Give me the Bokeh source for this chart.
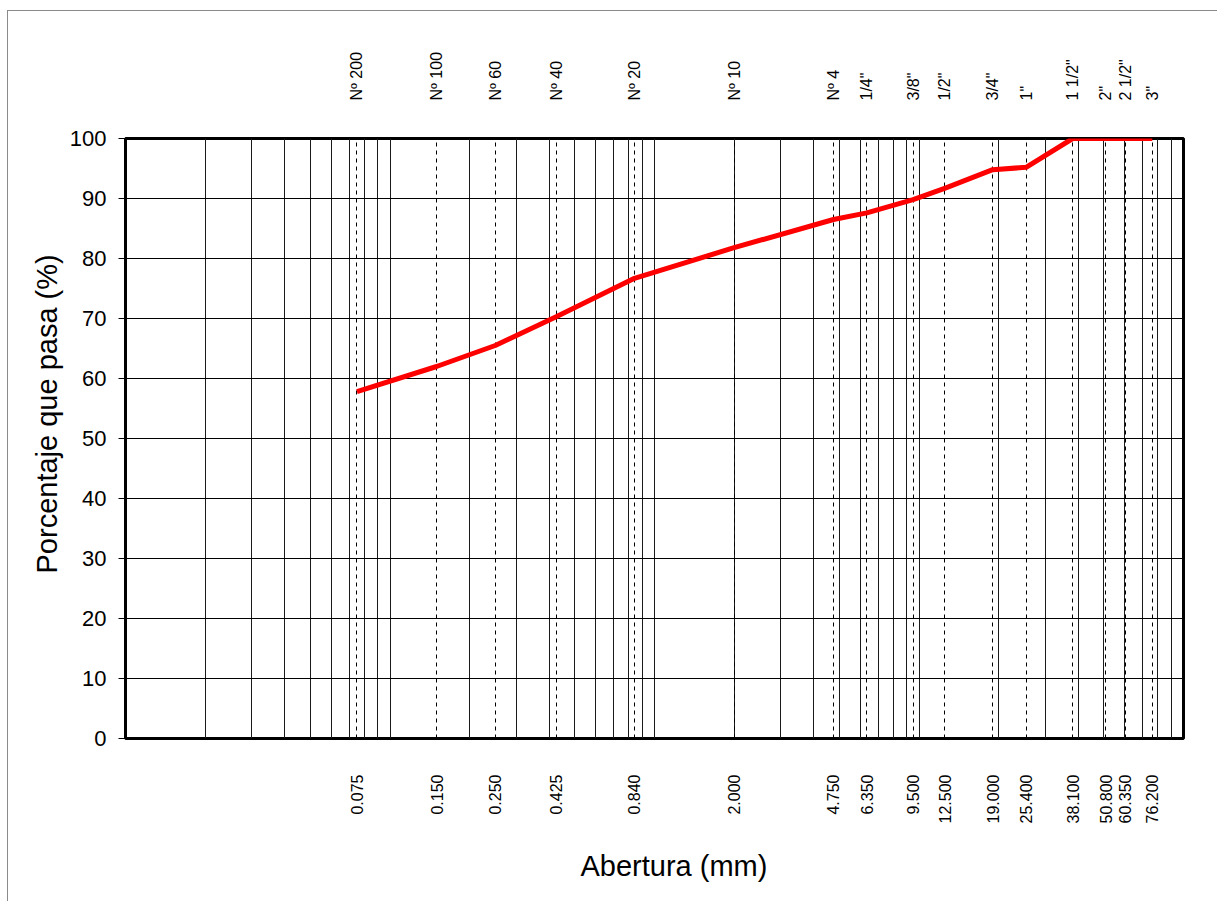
import math
from bokeh.plotting import figure
from bokeh.models import Range1d, FixedTicker, LogAxis, Grid, PrintfTickFormatter, CustomJSTickFormatter, Title
from bokeh.embed import file_html
from bokeh.resources import INLINE

# ---- data ----
sieve_mm = [0.075, 0.150, 0.250, 0.425, 0.840, 2.000, 4.750, 6.350, 9.500,
            12.500, 19.000, 25.400, 38.100, 50.800, 60.350, 76.200]
sieve_names = ["Nº 200", "Nº 100", "Nº 60", "Nº 40", "Nº 20", "Nº 10", "Nº 4",
               '1/4"', '3/8"', '1/2"', '3/4"', '1"', '1 1/2"', '2"', '2 1/2"', '3"']
passing = [57.8, 62.0, 65.5, 70.3, 76.7, 81.8, 86.5, 87.6, 89.8,
           91.7, 94.8, 95.2, 100.0, 100.0, 100.0, 100.0]
y_ticks = list(range(0, 101, 10))

FONT = "Liberation Sans"

# log-paper grid lines (2..10 in every decade)
log_grid = [m * 10.0 ** e for e in range(-2, 2) for m in range(2, 11)]

p = figure(width=1210, height=891, x_axis_type="log",
           x_range=Range1d(0.01, 100), y_range=Range1d(0, 100),
           output_backend="svg", toolbar_location=None,
           min_border_left=117, min_border_right=35,
           min_border_top=127, min_border_bottom=164)
p.styles = {"margin-left": "7px", "margin-top": "10px",
            "border-top": "1px solid #8a8a8a", "border-left": "1px solid #8a8a8a"}
p.background_fill_color = "white"
p.border_fill_color = "white"
p.outline_line_color = "black"
p.outline_line_width = 3
p.outline_line_alpha = 1.0

# grids
p.ygrid.ticker = FixedTicker(ticks=y_ticks)
p.ygrid.grid_line_color = "black"
p.ygrid.grid_line_width = 1
p.xgrid.ticker = FixedTicker(ticks=log_grid)
p.xgrid.grid_line_color = "#1a1a1a"
p.xgrid.grid_line_width = 1
p.add_layout(Grid(dimension=0, ticker=FixedTicker(ticks=sieve_mm),
                  grid_line_color="black", grid_line_width=1, grid_line_dash="4 4"))

# y axis
ya = p.yaxis[0]
ya.ticker = FixedTicker(ticks=y_ticks)
ya.axis_line_color = None
ya.major_tick_out = 7
ya.major_tick_in = 0
ya.major_tick_line_color = "black"
ya.minor_tick_line_color = None
ya.major_label_standoff = 12
ya.major_label_text_font = FONT
ya.major_label_text_font_size = "22px"
ya.major_label_text_color = "black"

# bottom axis (opening in mm)
xb = p.xaxis[0]
xb.ticker = FixedTicker(ticks=sieve_mm)
xb.formatter = PrintfTickFormatter(format="%.3f")
xb.major_label_orientation = math.pi / 2
xb.axis_line_color = None
xb.major_tick_line_color = None
xb.minor_tick_line_color = None
xb.major_label_standoff = 30
xb.major_label_text_font = FONT
xb.major_label_text_font_size = "16px"
xb.major_label_text_color = "black"

# top axis (sieve names)
xa = LogAxis(ticker=FixedTicker(ticks=sieve_mm),
             formatter=CustomJSTickFormatter(args=dict(vals=sieve_mm, names=sieve_names),
                                             code="const i = vals.indexOf(tick); return i >= 0 ? names[i] : '';"))
xa.major_label_orientation = math.pi / 2
xa.axis_line_color = None
xa.major_tick_line_color = None
xa.minor_tick_line_color = None
xa.major_label_standoff = 32
xa.major_label_text_font = FONT
xa.major_label_text_font_size = "16px"
xa.major_label_text_color = "black"
p.add_layout(xa, "above")

# axis titles
p.add_layout(Title(text="Abertura (mm)", align="left", offset=455, standoff=42,
                   text_font=FONT, text_font_size="29px", text_font_style="normal",
                   text_color="black"), "below")
p.add_layout(Title(text="Porcentaje que pasa (%)", align="left", offset=165, standoff=8,
                   text_font=FONT, text_font_size="29px", text_font_style="normal",
                   text_color="black"), "left")

# grading curve
p.line(sieve_mm, passing, line_color="#FF0000", line_width=5, line_join="round")

open("out.html", "w").write(file_html(p, INLINE))
